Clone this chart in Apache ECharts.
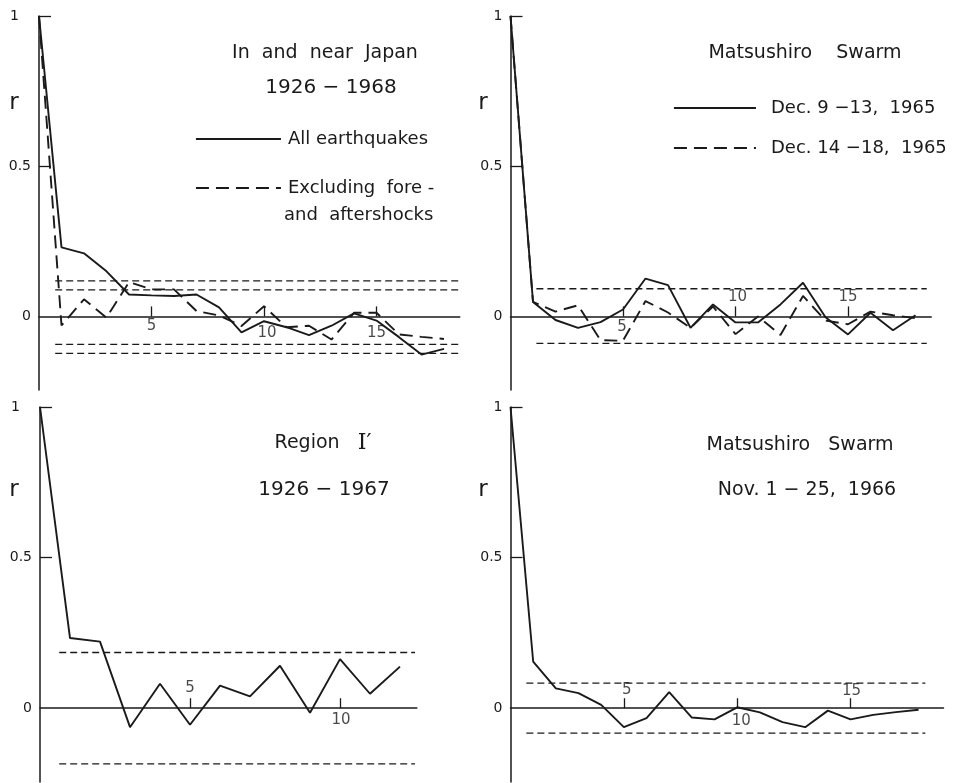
<!DOCTYPE html>
<html><head><meta charset="utf-8">
<script src="https://cdn.jsdelivr.net/npm/echarts@6/dist/echarts.min.js"></script>
<style>html,body{margin:0;padding:0;background:#fff}#c{width:958px;height:783px}</style>
</head><body><div id="c"></div>
<script>
// ---- data ----
const lags18 = [0,1,2,3,4,5,6,7,8,9,10,11,12,13,14,15,16,17,18];
const lags12 = [0,1,2,3,4,5,6,7,8,9,10,11,12];

const japanAll  = [1.0,0.23,0.21,0.15,0.073,0.07,0.068,0.073,0.03,-0.053,-0.016,-0.036,-0.062,-0.031,0.01,-0.014,-0.069,-0.127,-0.108];
const japanExcl = [1.0,-0.03,0.057,-0.004,0.114,0.09,0.09,0.018,0.003,-0.032,0.034,-0.036,-0.031,-0.077,0.012,0.012,-0.06,-0.068,-0.075];
const japanBands = [0.118,0.088,-0.093,-0.123];
const japanBandLags = [0.72,18.7];

const dec9to13  = [1.0,0.048,-0.012,-0.038,-0.019,0.023,0.126,0.104,-0.038,0.04,-0.02,-0.02,0.04,0.112,-0.003,-0.06,0.012,-0.046,0.004];
const dec14to18 = [1.0,0.048,0.016,0.037,-0.079,-0.081,0.051,0.013,-0.038,0.033,-0.059,0.0,-0.062,0.068,-0.014,-0.026,0.016,0.004,-0.006];
const dec65Bands = [0.092,-0.09];
const dec65BandLags = [1.15,18.5];

const regionI = [1.0,0.233,0.221,-0.063,0.081,-0.055,0.075,0.039,0.141,-0.015,0.163,0.048,0.138];
const regionBands = [0.185,-0.185];
const regionBandLags = [0.64,12.5];

const nov66 = [1.0,0.155,0.066,0.05,0.011,-0.063,-0.033,0.053,-0.031,-0.037,0.003,-0.014,-0.046,-0.063,-0.008,-0.037,-0.022,-0.013,-0.005];
const nov66Bands = [0.083,-0.083];
const nov66BandLags = [0.7,18.3];

const xTicks3 = [5,10,15];
const xTicks2 = [5,10];
const yTickValues = [0.5,1];
const yLabelValues = [0,0.5,1];

// ---- layout / style ----
const FONT = 'DejaVu Sans';
const INK = '#1a1a1a';
const panels = [
  { grid:{left:39,top:16,width:420.75,height:374}, xMax:18.7, yMin:-0.245, oneLeft:true,
    series:[{name:'All earthquakes',lags:lags18,vals:japanAll,dash:null},
            {name:'Excluding fore- and aftershocks',lags:lags18,vals:japanExcl,dash:[13,7]}],
    bands:japanBands, bandLags:japanBandLags,
    ticks:xTicks3, tickOffsets:[[0,10],[3,17],[0,17]] },
  { grid:{left:510.5,top:16,width:420.75,height:374}, xMax:18.7, yMin:-0.245, oneLeft:false,
    series:[{name:'Dec. 9 \u221213,  1965',lags:lags18,vals:dec9to13,dash:null},
            {name:'Dec. 14 \u221218,  1965',lags:lags18,vals:dec14to18,dash:[13,7]}],
    bands:dec65Bands, bandLags:dec65BandLags,
    ticks:xTicks3, tickOffsets:[[-1,11],[2,-19],[0,-19]] },
  { grid:{left:40,top:407,width:376.8,height:375}, xMax:12.56, yMin:-0.245, oneLeft:true,
    series:[{name:'Region I\u2032',lags:lags12,vals:regionI,dash:null}],
    bands:regionBands, bandLags:regionBandLags,
    ticks:xTicks2, tickOffsets:[[0,-20],[1,12]] },
  { grid:{left:510.5,top:407,width:433,height:375}, xMax:19.1, yMin:-0.245, oneLeft:false,
    series:[{name:'Nov. 1 \u2212 25,  1966',lags:lags18,vals:nov66,dash:null}],
    bands:nov66Bands, bandLags:nov66BandLags,
    ticks:xTicks3, tickOffsets:[[3,-18],[4,13],[1,-17]] }
];

const grids=[], xAxes=[], yAxes=[], series=[];
panels.forEach((p,i)=>{
  grids.push(Object.assign({containLabel:false},p.grid));
  xAxes.push({type:'value',gridIndex:i,min:0,max:p.xMax,
    axisLine:{show:true,onZero:true,lineStyle:{color:INK,width:1.5}},
    axisTick:{show:true,inside:true,length:10,customValues:p.ticks,lineStyle:{color:INK,width:1.3}},
    axisLabel:{show:false},splitLine:{show:false}});
  yAxes.push({type:'value',gridIndex:i,min:p.yMin,max:1,
    axisLine:{show:true,lineStyle:{color:INK,width:1.5}},
    axisTick:{show:true,inside:true,length:12,customValues:yTickValues,lineStyle:{color:INK,width:1.3}},
    axisLabel:{show:true,customValues:yLabelValues,margin:8,fontFamily:FONT,fontSize:14,color:INK,
      formatter:v=> v===1 ? (p.oneLeft?'{p|1}':'1') : String(v),
      rich:{p:{padding:[0,12,0,0],fontFamily:FONT,fontSize:14,color:INK}}},
    splitLine:{show:false}});
  p.series.forEach(s=>{
    series.push({type:'line',name:s.name,xAxisIndex:i,yAxisIndex:i,
      data:s.lags.map((l,k)=>[l,s.vals[k]]),symbol:'none',
      lineStyle:{color:INK,width:1.9,type:s.dash||'solid'},itemStyle:{color:INK},
      silent:true,animation:false,z:3});
  });
  p.bands.forEach(b=>{
    series.push({type:'line',name:'band',xAxisIndex:i,yAxisIndex:i,
      data:p.bandLags.map(l=>[l,b]),symbol:'none',
      lineStyle:{color:INK,width:1.3,type:[7,4]},silent:true,animation:false,z:2});
  });
  series.push({type:'scatter',name:'ticklabels',xAxisIndex:i,yAxisIndex:i,symbolSize:1,
    itemStyle:{color:'rgba(0,0,0,0)'},silent:true,animation:false,
    data:p.ticks.map((t,k)=>({value:[t,0],label:{offset:p.tickOffsets[k]}})),
    label:{show:true,position:'inside',formatter:q=>String(q.value[0]),
      fontFamily:FONT,fontSize:15,color:INK,textBorderWidth:0}});
});

const legendText = {fontFamily:FONT,fontSize:18,color:INK,lineHeight:20};
const hiddenSymbol = {color:'rgba(0,0,0,0)',borderWidth:0,opacity:0};
const legends = [
  {left:190,top:124,orient:'vertical',itemWidth:85,itemHeight:14,itemGap:29,selectedMode:false,
   itemStyle:hiddenSymbol,lineStyle:{color:INK,width:1.9,opacity:1},
   data:['All earthquakes','Excluding fore- and aftershocks'],
   formatter:n=> n==='All earthquakes' ? n : 'Excluding  fore -',
   textStyle:Object.assign({padding:[0,0,0,2]},legendText)},
  {left:668,top:93,orient:'vertical',itemWidth:82,itemHeight:14,itemGap:20,selectedMode:false,
   itemStyle:hiddenSymbol,lineStyle:{color:INK,width:1.9,opacity:1},
   data:['Dec. 9 \u221213,  1965','Dec. 14 \u221218,  1965'],
   textStyle:Object.assign({padding:[0,0,0,10]},legendText)}
];

function txt(x,y,text,size,align,extra){
  return {type:'text',x:x,y:y,silent:true,
    style:Object.assign({text:text,fontFamily:FONT,fontSize:size,fill:INK,
      align:align||'center',verticalAlign:'middle'},extra||{})};
}
const graphics = [
  txt(325,53,'In  and  near  Japan',19),
  txt(331,88,'1926 \u2212 1968',20),
  txt(284,215,'and  aftershocks',18,'left'),
  txt(805,53,'Matsushiro    Swarm',19),
  txt(323,443,'Region   {s|I\u2032}',19,'center',{rich:{s:{fontFamily:'DejaVu Serif',fontSize:22,fill:INK}}}),
  txt(324,490,'1926 \u2212 1967',20),
  txt(800,445,'Matsushiro   Swarm',19),
  txt(807,490,'Nov. 1 \u2212 25,  1966',19),
  txt(14,103,'r',23),
  txt(483,103,'r',23),
  txt(14,490,'r',23),
  txt(483,490,'r',23)
];

const chart = echarts.init(document.getElementById('c'),null,{renderer:'canvas'});
chart.setOption({
  animation:false,backgroundColor:'#fff',
  grid:grids,xAxis:xAxes,yAxis:yAxes,series:series,legend:legends,graphic:graphics
});
</script></body></html>
